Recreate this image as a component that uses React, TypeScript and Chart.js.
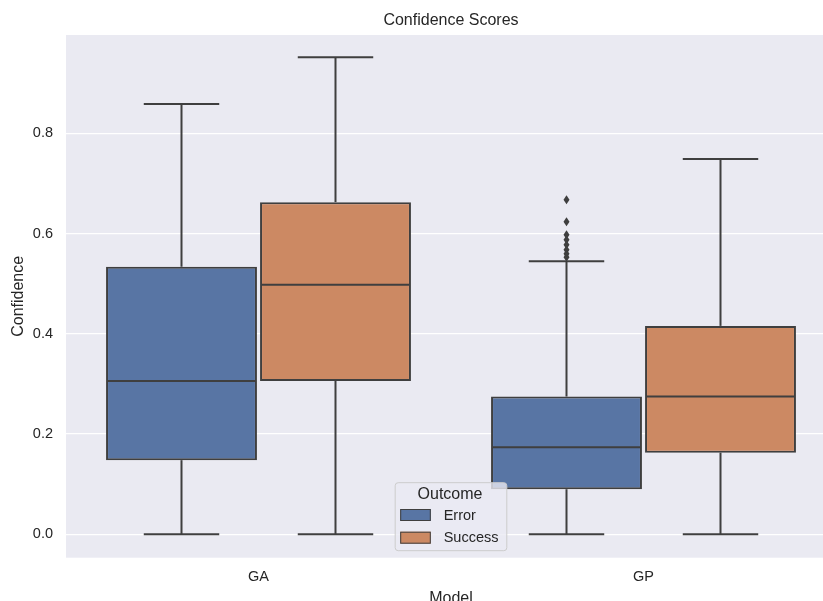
import { useEffect, useRef } from "react";
import { Chart, registerables } from "chart.js";

Chart.register(...registerables);

// Models on the x axis and the two outcome groups
const categories = ["GA", "GP"];
const outcomes = ["Error", "Success"];
const yTickValues = [0, 0.2, 0.4, 0.6, 0.8];

// Box statistics per model for the "Error" outcome
const errorMin = [0, 0];
const errorQ1 = [0.148, 0.09];
const errorMedian = [0.306, 0.174];
const errorQ3 = [0.534, 0.275];
const errorMax = [0.859, 0.545];
const errorFliers: number[][] = [[], [0.668, 0.624, 0.598, 0.588, 0.578, 0.568, 0.56, 0.553]];

// Box statistics per model for the "Success" outcome
const successMin = [0, 0];
const successQ1 = [0.306, 0.163];
const successMedian = [0.498, 0.275];
const successQ3 = [0.663, 0.416];
const successMax = [0.952, 0.749];
const successFliers: number[][] = [[], []];

const FONT = "'Liberation Sans', Arial, sans-serif";
const TEXT = "#262626";
const EDGE = "#3f3f3f";
const PANEL = "#eaeaf2";
const COLORS = ["#5875a4", "#cc8963"];

const stats = [
  { min: errorMin, q1: errorQ1, med: errorMedian, q3: errorQ3, max: errorMax, fliers: errorFliers },
  { min: successMin, q1: successQ1, med: successMedian, q3: successQ3, max: successMax, fliers: successFliers },
];

const boxExtras = {
  id: "boxExtras",
  beforeDraw(chart: any) {
    const { ctx, chartArea: a } = chart;
    ctx.save();
    ctx.fillStyle = PANEL;
    ctx.fillRect(a.left, a.top, a.right - a.left, a.bottom - a.top);
    ctx.restore();
  },
  afterDatasetsDraw(chart: any) {
    const { ctx } = chart;
    const y = chart.scales.y;
    const py = (v: number) => y.getPixelForValue(v);
    const line = (x1: number, y1: number, x2: number, y2: number) => {
      ctx.beginPath();
      ctx.moveTo(x1, y1);
      ctx.lineTo(x2, y2);
      ctx.stroke();
    };
    ctx.save();
    ctx.strokeStyle = EDGE;
    ctx.fillStyle = EDGE;
    ctx.lineWidth = 2;
    ctx.lineCap = "butt";
    stats.forEach((s, di) => {
      const meta = chart.getDatasetMeta(di);
      meta.data.forEach((bar: any, j: number) => {
        const { x, width } = bar.getProps(["x", "width"], true);
        const half = width / 2;
        const cap = width / 4;
        // whiskers and caps
        line(x, py(s.q3[j]), x, py(s.max[j]));
        line(x, py(s.q1[j]), x, py(s.min[j]));
        line(x - cap, py(s.max[j]), x + cap, py(s.max[j]));
        line(x - cap, py(s.min[j]), x + cap, py(s.min[j]));
        // median
        line(x - half + 1, py(s.med[j]), x + half - 1, py(s.med[j]));
        // outliers as thin diamonds
        s.fliers[j].forEach((v) => {
          const cy = py(v);
          ctx.beginPath();
          ctx.moveTo(x, cy - 4.5);
          ctx.lineTo(x + 3, cy);
          ctx.lineTo(x, cy + 4.5);
          ctx.lineTo(x - 3, cy);
          ctx.closePath();
          ctx.fill();
        });
      });
    });
    ctx.restore();
  },
  afterDraw(chart: any) {
    // legend in the lower centre of the plot panel
    const { ctx, chartArea: a } = chart;
    const w = 111.6;
    const h = 68;
    const cx = (a.left + a.right) / 2;
    const left = cx - w / 2;
    const top = a.bottom - 7 - h;
    ctx.save();
    ctx.beginPath();
    ctx.roundRect(left, top, w, h, 3);
    ctx.fillStyle = "rgba(234,234,242,0.8)";
    ctx.fill();
    ctx.strokeStyle = "#cccccc";
    ctx.lineWidth = 1;
    ctx.stroke();

    ctx.fillStyle = TEXT;
    ctx.textBaseline = "middle";
    ctx.textAlign = "center";
    ctx.font = `16px ${FONT}`;
    ctx.fillText("Outcome", left + w / 2 - 1, top + 12);

    ctx.textAlign = "left";
    ctx.font = `14.5px ${FONT}`;
    chart.data.datasets.forEach((ds: any, i: number) => {
      const pTop = top + 26.3 + i * 22.7;
      ctx.fillStyle = ds.backgroundColor;
      ctx.fillRect(left + 5, pTop, 30.6, 12);
      ctx.strokeStyle = EDGE;
      ctx.lineWidth = 1;
      ctx.strokeRect(left + 5.5, pTop + 0.5, 29.6, 11);
      ctx.fillStyle = TEXT;
      ctx.fillText(ds.label, left + 48.5, pTop + 6.5);
    });
    ctx.restore();
  },
};

export default function App() {
  const ref = useRef<HTMLCanvasElement>(null);

  useEffect(() => {
    if (!ref.current) return;
    const chart = new Chart(ref.current, {
      type: "bar",
      data: {
        labels: categories,
        datasets: outcomes.map((name, i) => ({
          label: name,
          data: categories.map((_, j) => [stats[i].q1[j], stats[i].q3[j]]),
          backgroundColor: COLORS[i],
          borderColor: EDGE,
          borderWidth: 2,
          borderSkipped: false,
          categoryPercentage: 0.8,
          barPercentage: 0.98,
        })),
      } as any,
      options: {
        responsive: false,
        devicePixelRatio: 1,
        animation: false,
        layout: { padding: { left: 0, right: 14, top: 0, bottom: 0 } },
        plugins: {
          legend: { display: false },
          tooltip: { enabled: false },
          title: {
            display: true,
            fullSize: false,
            text: "Confidence Scores",
            color: TEXT,
            font: { family: FONT, size: 16, weight: "normal" },
            padding: { top: 11.4, bottom: 4.4 },
          },
        },
        scales: {
          x: {
            type: "category",
            grid: { display: false, drawTicks: false },
            border: { display: false },
            ticks: { color: TEXT, font: { family: FONT, size: 14.5 }, padding: 11 },
            title: {
              display: true,
              text: "Model",
              color: TEXT,
              font: { family: FONT, size: 16 },
              padding: { top: 0, bottom: 3.4 },
            },
            afterFit: (s: any) => {
              s.height = 54.3;
            },
          },
          y: {
            min: -0.0467,
            max: 0.9966,
            grid: { color: "#ffffff", lineWidth: 1.3, drawTicks: false },
            border: { display: false },
            ticks: {
              color: TEXT,
              font: { family: FONT, size: 14.5 },
              padding: 13,
              callback: (v: any) => Number(v).toFixed(1),
            },
            afterBuildTicks: (s: any) => {
              s.ticks = yTickValues.map((v) => ({ value: v }));
            },
            title: {
              display: true,
              text: "Confidence",
              color: TEXT,
              font: { family: FONT, size: 16 },
              padding: { top: 9.4, bottom: 0 },
            },
            afterFit: (s: any) => {
              s.width = 66;
            },
          },
        },
      } as any,
      plugins: [boxExtras],
    });
    return () => chart.destroy();
  }, []);

  return (
    <div
      style={{
        position: "absolute",
        left: 0,
        top: 0,
        width: 823,
        height: 601,
        overflow: "hidden",
        background: "#ffffff",
      }}
    >
      <canvas ref={ref} width={850} height={612} style={{ display: "block" }} />
    </div>
  );
}
